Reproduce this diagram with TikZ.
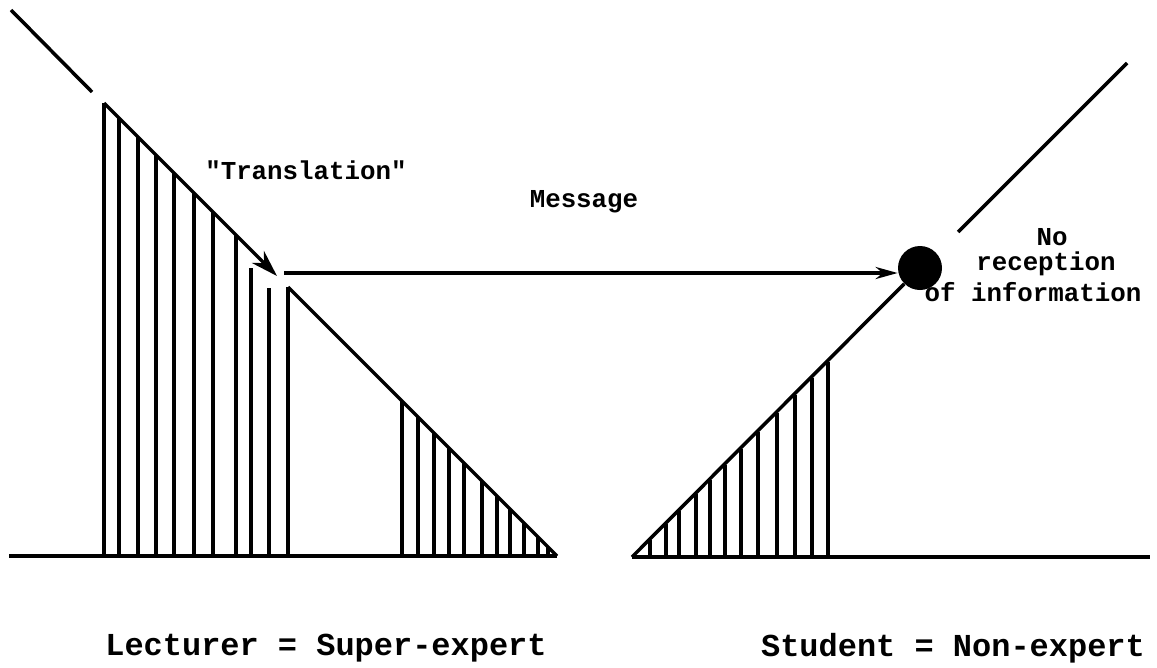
\documentclass[tikz,border=0pt]{standalone}
\usepackage{fontspec}
\newfontfamily\typefont{Liberation Mono}
\usetikzlibrary{arrows.meta}

\begin{document}
\begin{tikzpicture}[
    x=0.02cm, y=-0.02cm,
    stroke/.style={line width=2pt},
    hatch/.style={line width=1.8pt},
    dot/.style={circle, fill, minimum size=0.88cm, inner sep=0pt},
    msgtip/.style={-{Stealth[length=22*0.02cm, width=12*0.02cm]}},
    lbl/.style={font=\typefont\bfseries\fontsize{14.7}{18}\selectfont, inner sep=0pt},
    who/.style={font=\typefont\bfseries\fontsize{18.2}{22}\selectfont, inner sep=0pt}
]
    % --- Lecturer side ---
    \coordinate (lt0) at (11, 10);
    \coordinate (lt1) at (92, 92);
    \coordinate (lapex) at (104, 103);
    \coordinate (ltr) at (277, 276);
    \coordinate (lmid) at (288, 287);
    \coordinate (lend) at (557, 556);
    \coordinate (lbase) at (9, 556);

    \draw[stroke] (lt0) -- (lt1);
    \draw[stroke, -{Stealth[length=27*0.02cm, width=17*0.02cm]}] (lapex) -- (ltr);
    \draw[stroke] (lmid) -- (lend);
    \draw[stroke] (lbase) -- (lend);

    \foreach \x in {104, 119, 138, 156, 174, 194, 213, 236}
        \draw[hatch] (\x, 556) -- (\x, \x-1);
    \draw[hatch] (251, 556) -- (251, 268);
    \draw[hatch] (269, 556) -- (269, 288);
    \draw[hatch] (288, 556) -- (lmid);
    \foreach \x in {402, 418, 434, 449, 464, 482, 497, 510, 524, 538, 548}
        \draw[hatch] (\x, 556) -- (\x, \x-1);

    % --- Student side ---
    \node[dot] (rcv) at (920, 268) {};
    \coordinate (rstart) at (632, 557);
    \coordinate (rbase) at (1150, 557);
    \coordinate (rt0) at (958, 232);
    \coordinate (rt1) at (1127, 63);

    \draw[stroke] (rstart) -- (rbase);
    \draw[stroke] (rstart) -- (rcv);
    \draw[stroke] (rt0) -- (rt1);

    \foreach \x in {650, 666, 679, 696, 710, 725, 741, 758, 777, 795, 812, 828}
        \draw[hatch] (\x, 557) -- (\x, 1190-\x);

    % --- Message ---
    \coordinate (msg) at (284, 273);
    \draw[stroke, msgtip] (msg) -- (msg -| rcv.west);

    % --- Labels ---
    \node[lbl] (trans) at (306, 170) {"Translation"};
    \node[lbl] (mess) at (584, 202) {Message};
    \node[lbl] (no) at (1052, 237) {No};
    \node[lbl] (recep) at (1046, 264) {reception};
    \node[lbl] (info) at (1033, 292) {of information};

    \node[who] (lect) at (326, 648) {Lecturer = Super-expert};
    \node[who] (stud) at (953, 648) {Student = Non-expert};

    % Bounding box for padding
    \useasboundingbox (0, 0) rectangle (1157, 667);
\end{tikzpicture}
\end{document}
